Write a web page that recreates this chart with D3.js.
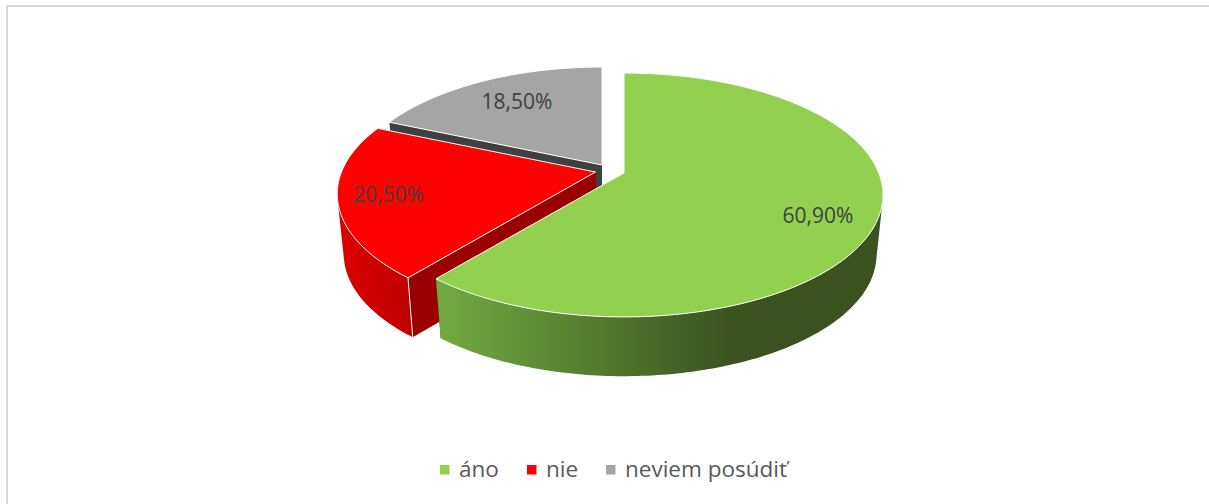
<!DOCTYPE html>
<html>
<head>
<meta charset="utf-8">
<script src="https://cdn.jsdelivr.net/npm/d3@7"></script>
<style>
  html, body { margin: 0; padding: 0; background: #fff; }
  svg { display: block; }
</style>
</head>
<body>
<svg id="chart" width="1209" height="504"></svg>
<script>
var categories = ["áno", "nie", "neviem posúdiť"];
var values = [60.9, 20.5, 18.5];
var labels = ["60,90%", "20,50%", "18,50%"];

var svg = d3.select("#chart");

var color = d3.scaleOrdinal().domain(categories).range(["#92d050", "#ff0000", "#a5a5a5"]);
var wallColor = d3.scaleOrdinal().domain(categories).range(["#3b5220", "#990000", "#404040"]);

// frame of the chart area
svg.append("path")
  .attr("d", "M7,504V6H1209")
  .attr("fill", "none")
  .attr("stroke", "#d9d9d9")
  .attr("stroke-width", 2);

// perspective of the tilted disc
var P = 0.18;
var depth = 60, shrinkX = 0.975, shrinkY = 0.995;

// exploded slices: tip position and radii differ a little
var shapes = {
  "áno": { tip: [624, 173], R: 254.7, B: 118 },
  "nie": { tip: [595.5, 172], R: 254, B: 118 },
  "neviem posúdiť": { tip: [602, 165], R: 248, B: 115.6 }
};

// the disc's rim: v runs +1 at the front
function rimPoint(sh, a) {
  var u = Math.sin(a), v = -Math.cos(a);
  var f = 1 - P * v;
  return [sh.tip[0] + sh.R * u / f, sh.tip[1] + sh.B * v / f];
}
function low(tip, p) {
  return [tip[0] + (p[0] - tip[0]) * shrinkX, tip[1] + depth + (p[1] - tip[1]) * shrinkY];
}

var pie = d3.pie().sort(null);
var arcs = pie(values);
var line = d3.line();

function angles(a0, a1) {
  var n = Math.max(2, Math.ceil((a1 - a0) * 60));
  return d3.range(n + 1).map(function(i) { return a0 + (a1 - a0) * i / n; });
}

// wall shading runs left to right
var defs = svg.append("defs");
var greenGrad = defs.append("linearGradient").attr("id", "wall0")
  .attr("gradientUnits", "userSpaceOnUse")
  .attr("x1", 444).attr("x2", 730).attr("y1", 0).attr("y2", 0);
greenGrad.append("stop").attr("offset", 0).attr("stop-color", "#72a841");
greenGrad.append("stop").attr("offset", 1).attr("stop-color", "#3b5220");
var redGrad = defs.append("linearGradient").attr("id", "wall1")
  .attr("gradientUnits", "userSpaceOnUse")
  .attr("x1", 339).attr("x2", 411).attr("y1", 0).attr("y2", 0);
redGrad.append("stop").attr("offset", 0).attr("stop-color", "#dc0000");
redGrad.append("stop").attr("offset", 1).attr("stop-color", "#bf0000");

// far slices first
[2, 1, 0].forEach(function(i) {
  var d = arcs[i], name = categories[i], sh = shapes[name], tip = sh.tip;
  var rimPts = angles(d.startAngle, d.endAngle).map(function(a) { return rimPoint(sh, a); });
  var g = svg.append("g");

  // flat walls along both straight edges
  var s = rimPts[0], e = rimPts[rimPts.length - 1];
  g.append("path")
    .attr("d", line([tip, s, low(tip, s), low(tip, tip)]) + "Z")
    .attr("fill", wallColor(name));
  g.append("path")
    .attr("d", line([tip, e, low(tip, e), low(tip, tip)]) + "Z")
    .attr("fill", wallColor(name));

  // round outer wall, front half only. gray one is hidden at the back
  if (i < 2) {
    var front = rimPts.filter(function(p) { return p[1] > tip[1]; });
    var wallPath = d3.pairs(front).map(function(q) {
      var pts = [q[0], q[1], low(tip, q[1]), low(tip, q[0])];
      // keep every quad wound the same way so the one path fills solid
      if (d3.polygonArea(pts) < 0) pts.reverse();
      return line(pts) + "Z";
    }).join("");
    g.append("path")
      .attr("d", wallPath)
      .attr("fill", "url(#wall" + i + ")");
    if (i == 1) {
      g.append("path")
        .attr("d", line([s, low(tip, s)]))
        .attr("fill", "none").attr("stroke", "#fff").attr("stroke-width", 1);
    }
  }

  // top face
  g.append("path")
    .attr("d", line([tip].concat(rimPts)) + "Z")
    .attr("fill", color(name));
  // light edge of the top face
  g.append("path")
    .attr("d", line([e, tip, s]))
    .attr("fill", "none").attr("stroke", "#fff").attr("stroke-width", 1);
  g.append("path")
    .attr("d", line(rimPts))
    .attr("fill", "none").attr("stroke", "#fff").attr("stroke-width", 1);
});

// data labels
var labelPos = [[818, 223], [388.5, 202], [517, 109]];
svg.selectAll(".label").data(labels).enter().append("text")
  .attr("class", "label")
  .attr("x", function(d, i) { return labelPos[i][0]; })
  .attr("y", function(d, i) { return labelPos[i][1]; })
  .attr("text-anchor", "middle")
  .attr("font-family", "'Open Sans', sans-serif")
  .attr("font-size", 21)
  .attr("fill", "#404040")
  .text(function(d) { return d; });

// legend
var legendX = d3.scaleOrdinal().domain(categories).range([440, 527, 606]);
var legend = svg.selectAll(".legend").data(categories).enter().append("g")
  .attr("class", "legend")
  .attr("transform", function(d) { return "translate(" + legendX(d) + ",465)"; });
legend.append("rect")
  .attr("width", 9.5).attr("height", 9.5)
  .attr("fill", function(d) { return color(d); });
legend.append("text")
  .attr("x", 19)
  .attr("y", 12)
  .attr("font-family", "'Open Sans', sans-serif")
  .attr("font-size", 22.5)
  .attr("fill", "#595959")
  .text(function(d) { return d; });
</script>
</body>
</html>
